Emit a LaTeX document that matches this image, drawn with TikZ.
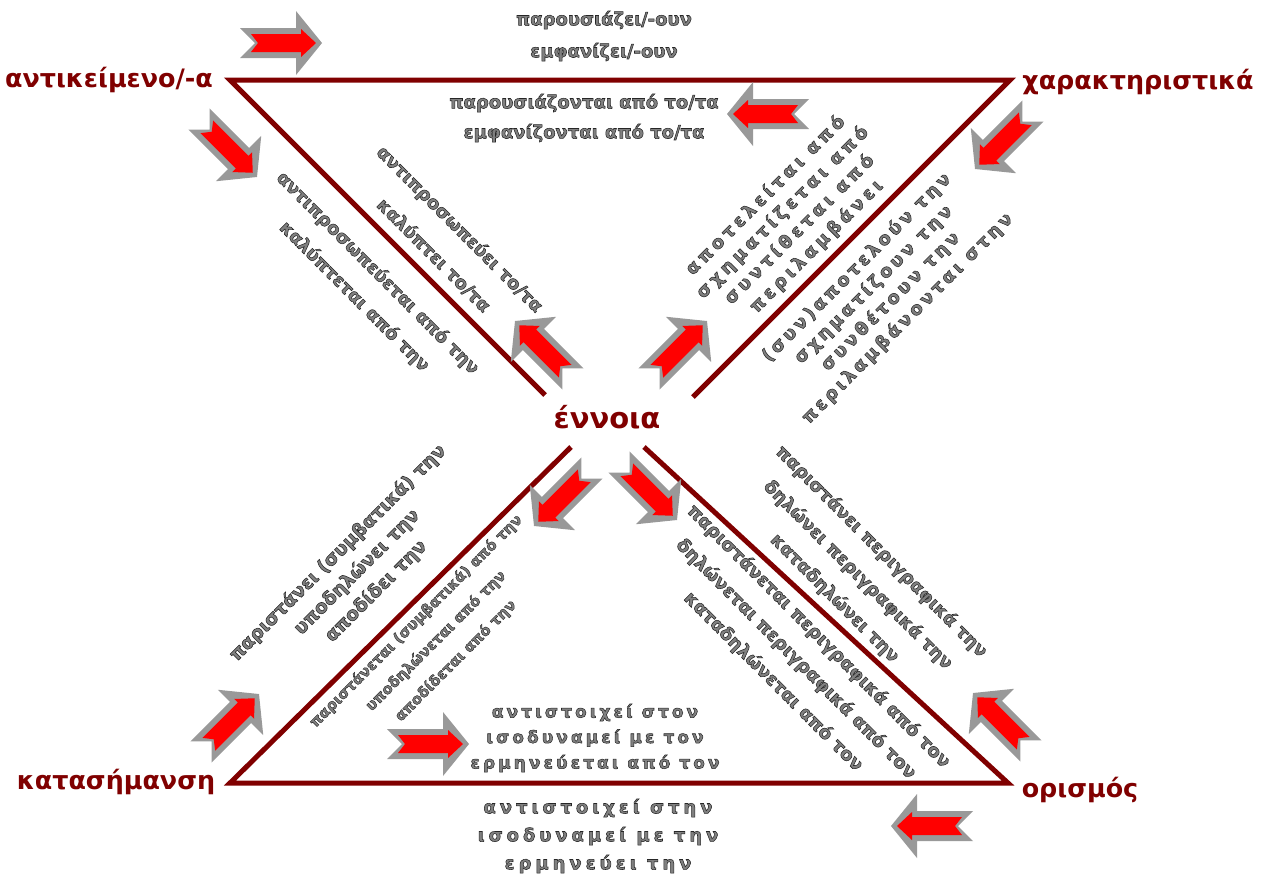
\documentclass[tikz,border=0pt]{standalone}
\usepackage{fontspec}
\setmainfont{DejaVu Sans}
% bold face stroked in render mode 2 (FakeBold); fill and stroke colours set apart
\newfontfamily\gtf{DejaVu Sans Bold}[FakeBold=3]
\newfontfamily\gtfA{DejaVu Sans Bold}[FakeBold=3, LetterSpace=22]
\newfontfamily\gtfB{DejaVu Sans Bold}[FakeBold=3, LetterSpace=18]
\newfontfamily\gtfC{DejaVu Sans Bold}[FakeBold=3, LetterSpace=18]
\newfontfamily\gtfD{DejaVu Sans Bold}[FakeBold=3, LetterSpace=22]
\definecolor{wine}{HTML}{800000}
\definecolor{arrowred}{HTML}{FF0000}
\definecolor{arrowgray}{HTML}{999999}
\definecolor{gfill}{HTML}{7F7F7F}
\newcommand{\outl}[1]{\special{pdf:bcolor [0.5 0.5 0.5] [0.15 0.15 0.15]}#1\special{pdf:ecolor}}
\tikzset{
  edge/.style={draw=wine, line width=2.5pt, line join=miter},
  lbl/.style={text=wine, inner sep=0pt, font=\bfseries\fontsize{12.7}{15}\selectfont},
  gtext/.style={text=gfill, align=center, inner sep=0pt},
  blockarrow/.pic={
    \fill[arrowgray] (-41,15) -- (-26,0) -- (-41,-15) -- (15,-15) -- (15,-32)
      -- (41,0) -- (15,32) -- (15,15) -- cycle;
    \fill[arrowred] (-30,9) -- (-23,0) -- (-30,-9) -- (20,-9) -- (20,-14)
      -- (35,0) -- (20,14) -- (20,9) -- cycle;
  }
}
\begin{document}
\begin{tikzpicture}[x=0.5pt, y=-0.5pt]
\useasboundingbox (0,0) rectangle (1262,874);
\fill[white] (0,0) rectangle (1262,874);

% corner points of the two triangles
\coordinate (tl) at (230,80);
\coordinate (tr) at (1010,80);
\coordinate (ul) at (545,395);
\coordinate (ur) at (693,397);
\coordinate (ll) at (571,447);
\coordinate (lr) at (644,447);
\coordinate (bl) at (230,783);
\coordinate (br) at (1008,783);

\draw[edge] (ul) -- (tl) -- (tr) -- (ur);
\draw[edge] (ll) -- (bl) -- (br) -- (lr);

% main terms
\node[lbl] (obj) at (109,80) {αντικείμενο/-α};
\node[lbl] (chr) at (1138,82) {χαρακτηριστικά};
\node[lbl, font=\bfseries\fontsize{14.5}{17}\selectfont] (con) at (607,417) {έννοια};
\node[lbl] (den) at (116,782) {κατασήμανση};
\node[lbl] (def) at (1080,790) {ορισμός};

% relation phrases
\node[gtext, font=\gtf\fontsize{9}{16}\selectfont] (t1) at (604,36)
  {\outl{παρουσιάζει/-ουν}\\\outl{εμφανίζει/-ουν}};
\node[gtext, font=\gtf\fontsize{9}{15}\selectfont] (t2) at (584,118)
  {\outl{παρουσιάζονται από το/τα}\\\outl{εμφανίζονται από το/τα}};
\node[gtext, rotate=-45, font=\gtf\fontsize{9}{18.5}\selectfont] (t3) at (447,242)
  {\outl{αντιπροσωπεύει το/τα}\\\outl{καλύπτει το/τα}};
\node[gtext, rotate=-45, font=\gtf\fontsize{9}{16.5}\selectfont] (t4) at (366,285)
  {\outl{αντιπροσωπεύεται από την}\\\outl{καλύπτεται από την}};
\node[gtext, rotate=45, font=\gtfA\fontsize{9}{12}\selectfont] (t5) at (791,221)
  {\outl{αποτελείται από}\\\outl{σχηματίζεται από}\\\outl{συντίθεται από}\\\outl{περιλαμβάνει}};
\node[gtext, rotate=45, font=\gtfB\fontsize{9}{12}\selectfont] (t6) at (882,293)
  {\outl{(συν)αποτελούν την}\\\outl{σχηματίζουν την}\\\outl{συνθέτουν την}\\\outl{περιλαμβάνονται στην}};
\node[gtext, rotate=45, font=\gtf\fontsize{9.3}{13.5}\selectfont] (t7) at (357,572)
  {\outl{παριστάνει (συμβατικά) την}\\\outl{υποδηλώνει την}\\\outl{αποδίδει την}};
\node[gtext, rotate=45, font=\gtf\fontsize{7.4}{14}\selectfont] (t8) at (436,641)
  {\outl{παριστάνεται (συμβατικά) από την}\\\outl{υποδηλώνεται από την}\\\outl{αποδίδεται από την}};
\node[gtext, rotate=-45, font=\gtf\fontsize{9}{16.5}\selectfont] (t9) at (858,575)
  {\outl{παριστάνει περιγραφικά την}\\\outl{δηλώνει περιγραφικά την}\\\outl{καταδηλώνει την}};
\node[gtext, rotate=-45, font=\gtf\fontsize{9.1}{16}\selectfont] (t10) at (796,659)
  {\outl{παριστάνεται περιγραφικά από τον}\\\outl{δηλώνεται περιγραφικά από τον}\\\outl{καταδηλώνεται από τον}};
\node[gtext, font=\gtfC\fontsize{8.5}{12.75}\selectfont] (t11) at (595,738)
  {\outl{αντιστοιχεί στον}\\\outl{ισοδυναμεί με τον}\\\outl{ερμηνεύεται από τον}};
\node[gtext, font=\gtfD\fontsize{9}{14}\selectfont] (t12) at (598,836)
  {\outl{αντιστοιχεί στην}\\\outl{ισοδυναμεί με την}\\\outl{ερμηνεύει την}};

% direction arrows
\pic at (281,43) {blockarrow};
\pic[rotate=-45] at (228,148) {blockarrow};
\pic[rotate=180] at (768,114) {blockarrow};
\pic[rotate=-135] at (1004,140) {blockarrow};
\pic[rotate=135] at (544,350) {blockarrow};
\pic[rotate=45] at (678,350) {blockarrow};
\pic[rotate=-135] at (563,497) {blockarrow};
\pic[rotate=-45] at (648,491) {blockarrow};
\pic[rotate=45] at (230,723) {blockarrow};
\pic at (428,744) {blockarrow};
\pic[rotate=135] at (1002,722) {blockarrow};
\pic[rotate=180] at (932,826) {blockarrow};
\end{tikzpicture}
\end{document}
